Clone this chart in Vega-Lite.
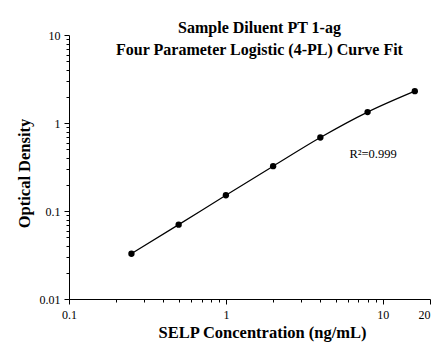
{
  "$schema": "https://vega.github.io/schema/vega-lite/v6.json",
  "width": 361,
  "height": 264,
  "autosize": {"type": "none"},
  "padding": {"left": 69, "top": 35, "right": 5, "bottom": 56},
  "background": "white",
  "title": {
    "text": ["Sample Diluent PT 1-ag", "Four Parameter Logistic (4-PL) Curve Fit"],
    "font": "Liberation Serif",
    "fontSize": 16,
    "fontWeight": "bold",
    "color": "black",
    "lineHeight": 22,
    "anchor": "middle",
    "baseline": "alphabetic",
    "offset": -42,
    "dx": 10
  },
  "config": {
    "view": {"stroke": null},
    "axis": {
      "grid": false,
      "domainColor": "black",
      "tickColor": "black",
      "labelColor": "black",
      "titleColor": "black",
      "labelFont": "Liberation Serif",
      "titleFont": "Liberation Serif",
      "labelFontSize": 12,
      "titleFontSize": 16.5,
      "titleFontWeight": "bold",
      "domainWidth": 1,
      "tickWidth": 1
    }
  },
  "data": {
    "values": [
      {"conc": 0.25, "od": 0.0327},
      {"conc": 0.5, "od": 0.070},
      {"conc": 1, "od": 0.151},
      {"conc": 2, "od": 0.323},
      {"conc": 4, "od": 0.684},
      {"conc": 8, "od": 1.33},
      {"conc": 16, "od": 2.30}
    ]
  },
  "layer": [
    {
      "mark": {"type": "line", "color": "black", "strokeWidth": 1.2, "interpolate": "monotone"},
      "encoding": {
        "x": {
          "field": "conc", "type": "quantitative",
          "scale": {"type": "log", "domain": [0.1, 20], "nice": false},
          "axis": {
            "title": "SELP Concentration (ng/mL)",
            "values": [0.1, 0.2, 0.3, 0.4, 0.5, 0.6, 0.7, 0.8, 0.9, 1, 2, 3, 4, 5, 6, 7, 8, 9, 10, 20],
            "labelExpr": "(datum.value == 0.1 || datum.value == 1 || datum.value == 10 || datum.value == 20) ? datum.label : ''",
            "tickSize": {"condition": {"test": "datum.value == 0.1 || datum.value == 1 || datum.value == 10 || datum.value == 20", "value": 5}, "value": 3},
            "labelAlign": {"condition": {"test": "datum.value == 20", "value": "right"}, "value": "center"},
            "labelPadding": 5,
            "labelFlush": false,
            "labelOverlap": false,
            "titleX": 193,
            "titleY": 38,
            "titleBaseline": "alphabetic",
            "titleAnchor": "start",
            "titleAlign": "center"
          }
        },
        "y": {
          "field": "od", "type": "quantitative",
          "scale": {"type": "log", "domain": [0.01, 10], "nice": false},
          "axis": {
            "title": "Optical Density",
            "values": [0.01, 0.02, 0.03, 0.04, 0.05, 0.06, 0.07, 0.08, 0.09, 0.1, 0.2, 0.3, 0.4, 0.5, 0.6, 0.7, 0.8, 0.9, 1, 2, 3, 4, 5, 6, 7, 8, 9, 10],
            "labelExpr": "(datum.value == 0.01 || datum.value == 0.1 || datum.value == 1 || datum.value == 10) ? datum.label : ''",
            "tickSize": {"condition": {"test": "datum.value == 0.01 || datum.value == 0.1 || datum.value == 1 || datum.value == 10", "value": 5}, "value": 3},
            "labelPadding": 4,
            "labelFlush": false,
            "labelOverlap": false,
            "titleX": -40,
            "titleY": 138,
            "titleBaseline": "alphabetic",
            "titleAngle": -90,
            "titleAlign": "center"
          }
        }
      }
    },
    {
      "mark": {"type": "point", "filled": true, "color": "black", "size": 40, "opacity": 1},
      "encoding": {
        "x": {"field": "conc", "type": "quantitative"},
        "y": {"field": "od", "type": "quantitative"}
      }
    },
    {
      "data": {"values": [{"conc": 8.67, "od": 0.44, "label": "R²=0.999"}]},
      "mark": {"type": "text", "font": "Liberation Serif", "fontSize": 12.5, "color": "black", "align": "center", "baseline": "middle"},
      "encoding": {
        "x": {"field": "conc", "type": "quantitative"},
        "y": {"field": "od", "type": "quantitative"},
        "text": {"field": "label"}
      }
    }
  ]
}
